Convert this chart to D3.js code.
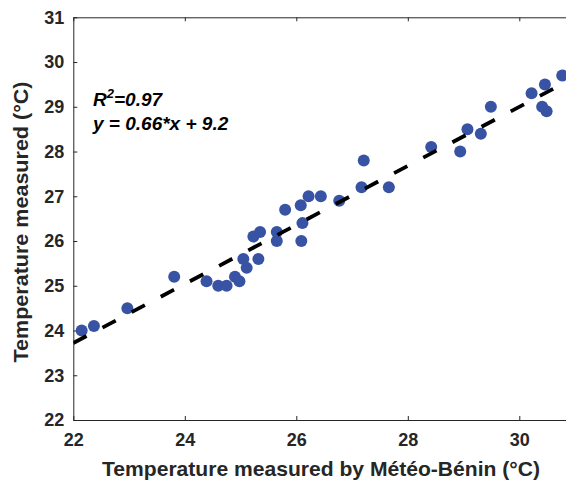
<!DOCTYPE html>
<html>
<head>
  <meta charset="utf-8">
  <script src="https://d3js.org/d3.v7.min.js"></script>
  <style>
    body { margin: 0; background: #fff; }
    svg { display: block; font-family: "Liberation Sans", Arial, sans-serif; }
  </style>
</head>
<body>
<svg id="chart" width="566" height="484"></svg>
<script>
  // measured by Météo-Bénin (x) vs measured (y)
  var meteoX = [22.15, 22.37, 22.97, 23.81, 24.39, 24.60, 24.75, 24.90, 24.98, 25.05,
                25.11, 25.32, 25.23, 25.35, 25.65, 25.65, 25.80, 26.08, 26.22, 26.44,
                26.11, 26.09, 26.77, 27.17, 27.21, 27.66, 28.42, 28.94, 29.07, 29.31,
                29.49, 30.22, 30.46, 30.41, 30.49, 30.77];
  var measuredY = [24.0, 24.1, 24.5, 25.2, 25.1, 25.0, 25.0, 25.2, 25.1, 25.6,
                   25.4, 25.6, 26.1, 26.2, 26.2, 26.0, 26.7, 26.8, 27.0, 27.0,
                   26.4, 26.0, 26.9, 27.2, 27.8, 27.2, 28.1, 28.0, 28.5, 28.4,
                   29.0, 29.3, 29.5, 29.0, 28.9, 29.7];
  var xTicks = [22, 24, 26, 28, 30];
  var yTicks = [22, 23, 24, 25, 26, 27, 28, 29, 30, 31];
  var slope = 0.66, intercept = 9.2;
  var fitRange = [22, 30.8];

  var plotLeft = 73.3, plotTop = 17.3, plotBottom = 420;
  var svg = d3.select('#chart');

  var x = d3.scaleLinear().domain([22, 31]).range([plotLeft, plotLeft + 9 * 55.75]);
  var y = d3.scaleLinear().domain([22, 31]).range([plotBottom, plotTop]);

  svg.append('clipPath').attr('id', 'plotclip')
    .append('rect')
    .attr('x', plotLeft).attr('y', plotTop)
    .attr('width', x(31) - plotLeft).attr('height', plotBottom - plotTop);

  // axes
  var axisColor = '#262626';
  var gx = svg.append('g')
    .attr('transform', 'translate(0,' + plotBottom + ')')
    .call(d3.axisBottom(x).tickValues(xTicks).tickSize(-4).tickSizeOuter(0).tickPadding(13));
  var gxt = svg.append('g')
    .attr('transform', 'translate(0,' + plotTop + ')')
    .call(d3.axisTop(x).tickValues(xTicks).tickSize(-4).tickSizeOuter(0).tickFormat(''));
  var gy = svg.append('g')
    .attr('transform', 'translate(' + plotLeft + ',0)')
    .call(d3.axisLeft(y).tickValues(yTicks).tickSize(-4).tickSizeOuter(0).tickPadding(9));

  [gx, gxt, gy].forEach(function(g) {
    g.selectAll('path, line').attr('stroke', axisColor).attr('stroke-width', 1);
    g.selectAll('text')
      .attr('fill', axisColor)
      .style('font-size', '18px')
      .style('font-weight', 'bold');
  });

  // points
  svg.append('g')
    .selectAll('circle')
    .data(meteoX)
    .enter()
    .append('circle')
    .attr('cx', function(d) { return x(d); })
    .attr('cy', function(d, i) { return y(measuredY[i]); })
    .attr('r', 6)
    .attr('fill', '#3853a4');

  // fit line
  svg.append('line')
    .attr('clip-path', 'url(#plotclip)')
    .attr('x1', x(fitRange[0]))
    .attr('y1', y(slope * fitRange[0] + intercept))
    .attr('x2', x(fitRange[1]))
    .attr('y2', y(slope * fitRange[1] + intercept))
    .attr('stroke', '#000')
    .attr('stroke-width', 3.8)
    .attr('stroke-dasharray', '15,18');

  // annotation
  var r2 = svg.append('text')
    .attr('x', 93).attr('y', 106)
    .attr('fill', '#000')
    .style('font-size', '19px')
    .style('font-weight', 'bold')
    .style('font-style', 'italic');
  r2.append('tspan').text('R');
  r2.append('tspan').attr('dy', -8).style('font-size', '13px').text('2');
  r2.append('tspan').attr('dy', 8).text('=0.97');

  svg.append('text')
    .attr('x', 93).attr('y', 130)
    .attr('fill', '#000')
    .style('font-size', '19px')
    .style('font-weight', 'bold')
    .style('font-style', 'italic')
    .text('y = 0.66*x + 9.2');

  // axis titles
  svg.append('text')
    .attr('x', 321).attr('y', 476)
    .attr('text-anchor', 'middle')
    .attr('fill', axisColor)
    .style('font-size', '20.5px')
    .style('font-weight', 'bold')
    .attr('textLength', 438)
    .attr('lengthAdjust', 'spacingAndGlyphs')
    .text('Temperature measured by Météo-Bénin (°C)');

  svg.append('text')
    .attr('transform', 'translate(28,222) rotate(-90)')
    .attr('text-anchor', 'middle')
    .attr('fill', axisColor)
    .style('font-size', '20.5px')
    .style('font-weight', 'bold')
    .attr('textLength', 281)
    .attr('lengthAdjust', 'spacingAndGlyphs')
    .text('Temperature measured (°C)');
</script>
</body>
</html>
